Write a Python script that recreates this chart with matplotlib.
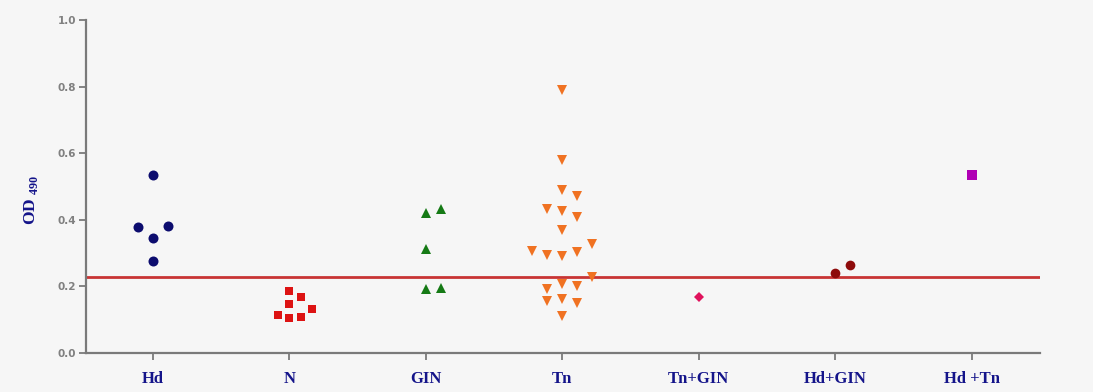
import numpy as np
import matplotlib
matplotlib.use("Agg")
import matplotlib.pyplot as plt

# ---------------- data ----------------
categories = ["Hd", "N", "GIN", "Tn", "Tn+GIN", "Hd+GIN", "Hd +Tn"]
hd_values = [0.535, 0.379, 0.345, 0.381, 0.276]
n_values = [0.187, 0.146, 0.167, 0.114, 0.104, 0.107, 0.131]
gin_values = [0.420, 0.431, 0.311, 0.191, 0.196]
tn_values = [0.791, 0.580, 0.488, 0.470, 0.431, 0.426, 0.409, 0.369,
             0.307, 0.294, 0.291, 0.304, 0.326,
             0.193, 0.207, 0.202, 0.228,
             0.157, 0.162, 0.150, 0.110]
tn_gin_values = [0.167]
hd_gin_values = [0.239, 0.264]
hd_tn_values = [0.535]
cutoff_value = 0.228
y_ticks = [0.0, 0.2, 0.4, 0.6, 0.8, 1.0]

groups = [hd_values, n_values, gin_values, tn_values,
          tn_gin_values, hd_gin_values, hd_tn_values]

# ---------------- styles ----------------
colors = ["#0c0c6e", "#dd1313", "#157a15", "#f07222", "#e0125c", "#8e0b0b", "#b000b4"]
markers = ["o", "s", "^", "v", "D", "o", "s"]
msizes = [7.2, 5.6, 7.2, 7.2, 5.0, 7.0, 6.6]
label_color = "#14148a"
spine_color = "#7a7a7a"
bg = "#f6f6f6"

W, H, DPI = 1093, 392, 100
fig = plt.figure(figsize=(W / DPI, H / DPI), dpi=DPI, facecolor=bg)
ax_left, ax_right, ax_top, ax_bottom = 86, 1040, 20, 353
ax = fig.add_axes([ax_left / W, (H - ax_bottom) / H,
                   (ax_right - ax_left) / W, (ax_bottom - ax_top) / H])
ax.set_facecolor(bg)

xmin, xmax = -0.49, 6.5
ax.set_xlim(xmin, xmax)
ax.set_ylim(0, 1.0)
px_per_unit = (ax_right - ax_left) / (xmax - xmin)


def swarm_offsets(vals, bin_h, step):
    """GraphPad-like column scatter: bin values from the bottom,
    centre the points of each bin side by side."""
    vals = np.asarray(vals, dtype=float)
    order = np.argsort(vals, kind="stable")
    offs = np.zeros(len(vals))
    i = 0
    while i < len(order):
        start = vals[order[i]]
        j = i
        while j < len(order) and vals[order[j]] - start < bin_h:
            j += 1
        members = sorted(order[i:j])
        n = len(members)
        slots = range(-((n - 1) // 2), n // 2 + 1)
        for m, s in zip(members, slots):
            offs[m] = s * step
        i = j
    return offs


ax.axhline(cutoff_value, color="#c83434", lw=2.0, zorder=1)

for k, vals in enumerate(groups):
    factor = 1.45 if k == 1 else 1.5
    step = factor * msizes[k] * DPI / 72.0 / px_per_unit
    offs = swarm_offsets(vals, 0.037, step)
    ax.plot(k + offs, vals, linestyle="none", marker=markers[k],
            markersize=msizes[k], color=colors[k], markeredgewidth=0, zorder=3)

for side in ["top", "right"]:
    ax.spines[side].set_visible(False)
for side in ["left", "bottom"]:
    ax.spines[side].set_color(spine_color)
    ax.spines[side].set_linewidth(1.6)

ax.set_yticks(y_ticks)
ax.set_yticklabels([f"{t:.1f}" for t in y_ticks])
ax.set_xticks(range(len(categories)))
ax.set_xticklabels(categories)
ax.tick_params(axis="both", direction="out", length=5, width=1.3, color=spine_color)
ax.tick_params(axis="y", labelsize=7.5, labelcolor="#808080", pad=2)
ax.tick_params(axis="x", labelsize=12, labelcolor=label_color, pad=8)
for lab in ax.get_yticklabels():
    lab.set_fontweight("bold")
    lab.set_family("DejaVu Sans")
for lab in ax.get_xticklabels():
    lab.set_fontweight("bold")
    lab.set_family("Liberation Serif")

plt.rcParams["mathtext.fontset"] = "custom"
plt.rcParams["mathtext.rm"] = "Liberation Serif:bold"
plt.rcParams["mathtext.bf"] = "Liberation Serif:bold"
fig.text(31 / W, 1 - 200 / H, r"$\mathrm{OD}_{\ \mathrm{490}}$", rotation=90,
         ha="center", va="center", fontsize=12.5, color=label_color)

fig.savefig("out.png", dpi=DPI, facecolor=bg)
